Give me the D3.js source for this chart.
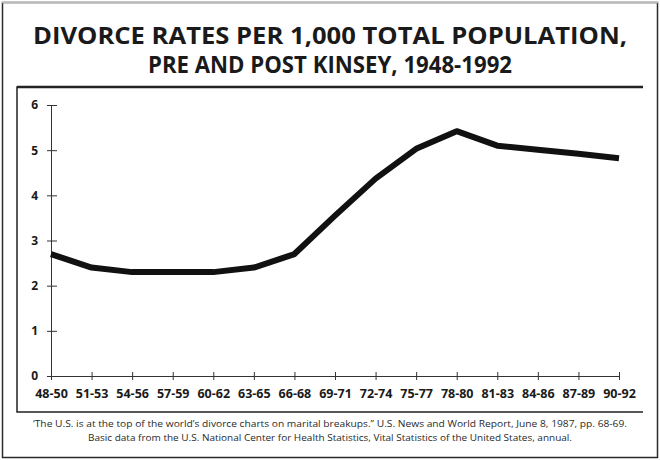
<!DOCTYPE html>
<html>
<head>
<meta charset="utf-8">
<script src="https://cdn.jsdelivr.net/npm/d3@7"></script>
<style>
  body { margin: 0; background: #fff; }
  svg { display: block; font-family: "Open Sans", "Noto Sans", sans-serif; }
</style>
</head>
<body>
<svg id="chart" width="660" height="460"></svg>
<script>
const categories = ["48-50", "51-53", "54-56", "57-59", "60-62", "63-65", "66-68",
  "69-71", "72-74", "75-77", "78-80", "81-83", "84-86", "87-89", "90-92"];
const rates = [2.7, 2.4, 2.3, 2.3, 2.3, 2.4, 2.7, 3.55, 4.37, 5.03, 5.42, 5.1, 5.01, 4.92, 4.82];
const yTicks = [0, 1, 2, 3, 4, 5, 6];
const titleLines = ["DIVORCE RATES PER 1,000 TOTAL POPULATION,", "PRE AND POST KINSEY, 1948-1992"];
const noteLines = [
  "\u2018The U.S. is at the top of the world\u2019s divorce charts on marital breakups.\u2019\u2019 U.S. News and World Report, June 8, 1987, pp. 68-69.",
  "Basic data from the U.S. National Center for Health Statistics, Vital Statistics of the United States, annual."
];

const svg = d3.select("#chart");

// outer frame
svg.append("rect")
  .attr("x", 2.5).attr("y", 2.5).attr("width", 655).attr("height", 455)
  .attr("fill", "none").attr("stroke", "#2a2a2a").attr("stroke-width", 1.5);
svg.append("line")
  .attr("x1", 2).attr("x2", 658).attr("y1", 2.5).attr("y2", 2.5)
  .attr("stroke", "#bbb").attr("stroke-width", 1.5);

// title
svg.selectAll(".title")
  .data(titleLines)
  .enter()
  .append("text")
  .attr("class", "title")
  .attr("x", 330)
  .attr("y", (d, i) => 44 + i * 29)
  .attr("text-anchor", "middle")
  .attr("font-size", "23px")
  .attr("font-weight", 700)
  .attr("fill", "#1a1a1a")
  .attr("textLength", (d, i) => (i === 0 ? 594 : 364))
  .attr("lengthAdjust", "spacingAndGlyphs")
  .text((d) => d);

// inner box: top, left, bottom rules
const box = { left: 17, top: 87, right: 643, bottom: 412 };
svg.append("path")
  .attr("d", `M${box.right},${box.top}H${box.left}V${box.bottom}H${box.right}`)
  .attr("fill", "none").attr("stroke", "#222").attr("stroke-width", 1.5);
svg.append("line")
  .attr("x1", box.left).attr("x2", box.right).attr("y1", box.top).attr("y2", box.top)
  .attr("stroke", "#222").attr("stroke-width", 2.5);

const x = d3.scalePoint().domain(categories).range([51, 619]);
const y = d3.scaleLinear().domain([0, 6]).range([376, 105]);

// y axis
const yAxis = svg.append("g")
  .attr("transform", `translate(${x(categories[0])},0)`)
  .call(d3.axisLeft(y).tickValues(yTicks).tickFormat(d3.format("d"))
    .tickSizeInner(-6).tickSizeOuter(0).tickPadding(0));
yAxis.select(".domain").attr("stroke", "#333").attr("stroke-width", 1);
yAxis.selectAll(".tick line").attr("x1", -4).attr("x2", 6).attr("stroke", "#333");
yAxis.selectAll(".tick text")
  .attr("x", -13)
  .attr("font-size", "12px").attr("font-weight", 700)
  .attr("font-family", "\"Open Sans\", sans-serif").attr("fill", "#1a1a1a");

// x axis
const xAxis = svg.append("g")
  .attr("transform", `translate(0,${y(0)})`)
  .call(d3.axisBottom(x).tickSizeOuter(0).tickPadding(0));
xAxis.select(".domain").attr("stroke", "#333").attr("stroke-width", 1);
xAxis.selectAll(".tick line").attr("y1", -4).attr("y2", 4).attr("stroke", "#333");
xAxis.selectAll(".tick text")
  .attr("y", 13).attr("dy", "0.71em")
  .attr("font-size", "12.5px").attr("font-weight", 700)
  .attr("font-family", "\"Open Sans\", sans-serif").attr("fill", "#1a1a1a");

// divorce rate line
const line = d3.line()
  .x((d, i) => x(categories[i]))
  .y((d) => y(d));
svg.append("path")
  .datum(rates)
  .attr("d", line)
  .attr("fill", "none")
  .attr("stroke", "#111")
  .attr("stroke-width", 6)
  .attr("stroke-linejoin", "round");

// footnote
svg.selectAll(".note")
  .data(noteLines)
  .enter()
  .append("text")
  .attr("class", "note")
  .attr("x", 330)
  .attr("y", (d, i) => 427 + i * 14)
  .attr("text-anchor", "middle")
  .attr("font-size", "8.6px")
  .attr("fill", "#2a2a2a")
  .attr("textLength", (d, i) => (i === 0 ? 594 : 484))
  .attr("lengthAdjust", "spacingAndGlyphs")
  .text((d) => d);
</script>
</body>
</html>
